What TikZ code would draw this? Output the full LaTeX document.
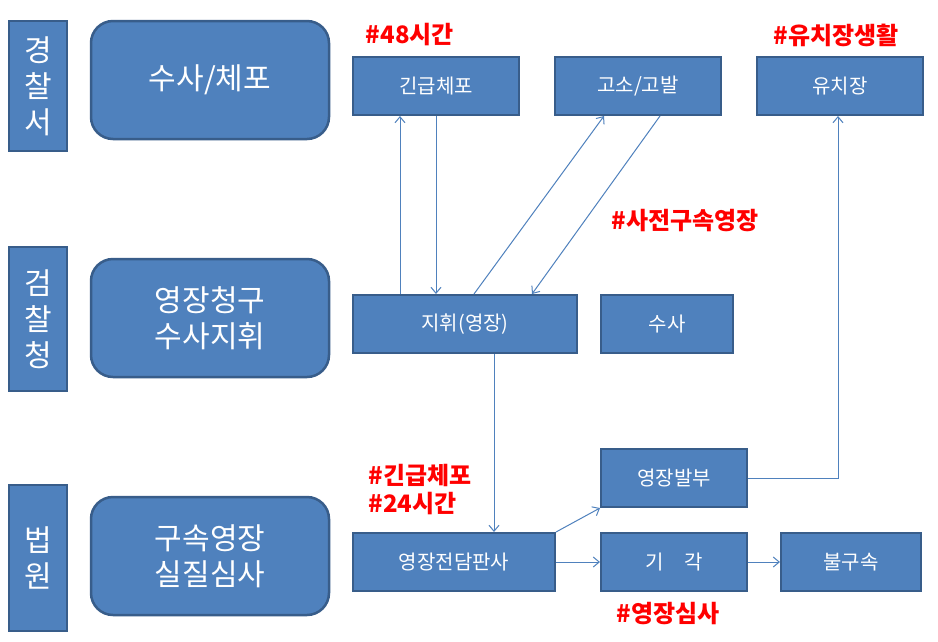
\documentclass[tikz,border=0pt]{standalone}
\usepackage{fontspec}
\setmainfont{Noto Sans CJK KR}
\usetikzlibrary{arrows.meta}
\definecolor{boxfill}{HTML}{4F81BD}
\definecolor{boxline}{HTML}{385D8A}
\tikzset{
  orgbox/.style={fill=boxfill, draw=boxline, line width=2.5pt, text=white, align=center,
    font=\fontsize{30}{36}\selectfont, minimum width=58pt, inner sep=0pt},
  rolebox/.style={fill=boxfill, draw=boxline, line width=2.5pt, rounded corners=22pt, text=white,
    align=center, font=\fontsize{30}{36}\selectfont, minimum width=238pt, minimum height=118pt},
  stepbox/.style={fill=boxfill, draw=boxline, line width=2pt, text=white,
    font=\fontsize{20}{24}\selectfont, minimum height=58pt, inner sep=0pt},
  note/.style={text=red, font=\bfseries\fontsize{24}{28}\selectfont},
  link/.style={draw=boxfill, line width=1pt, -{Straight Barb[length=6pt,width=10pt]}}
}
\begin{document}
\begin{tikzpicture}[x=1pt,y=-1pt]
    \useasboundingbox[fill=white] (0,0) rectangle (938,641);

    % organisations
    \node[orgbox, minimum height=130pt] (police) at (38,86) {경\\찰\\서};
    \node[orgbox, minimum height=144pt] (prosec) at (38,319) {검\\찰\\청};
    \node[orgbox, minimum height=146pt] (court) at (38,558) {법\\원};

    \node[rolebox] (arrest) at (210,80) {수사/체포};
    \node[rolebox] (warrant) at (210,318) {영장청구\\수사지휘};
    \node[rolebox] (review) at (210,556) {구속영장\\실질심사};

    % steps
    \node[stepbox, minimum width=166pt] (urgent) at (436,86) {긴급체포};
    \node[stepbox, minimum width=166pt] (charge) at (638,86) {고소/고발};
    \node[stepbox, minimum width=166pt] (jail) at (840,86) {유치장};
    \node[stepbox, minimum width=224pt] (direct) at (465,324) {지휘(영장)};
    \node[stepbox, minimum width=132pt] (invest) at (667,324) {수사};
    \node[stepbox, minimum width=146pt] (issue) at (674,478) {영장발부};
    \node[stepbox, minimum width=202pt] (judge) at (454,562) {영장전담판사};
    \node[stepbox, minimum width=146pt] (reject) at (674,562) {기\quad 각};
    \node[stepbox, minimum width=140pt] (free) at (851,562) {불구속};

    % notes
    \node[note] (n48) at (410,35) {\#48시간};
    \node[note] (njail) at (836,35) {\#유치장생활};
    \node[note] (npre) at (685,221) {\#사전구속영장};
    \node[note, align=left] (n24) at (420,490) {\#긴급체포\\\#24시간};
    \node[note] (nrev) at (668,614) {\#영장심사};

    % connectors
    \draw[link] (direct.north -| 400,0) -- (urgent.south -| 400,0);
    \draw[link] (urgent.south -| 436,0) -- (direct.north -| 436,0);
    \draw[link] (direct.north -| 474,0) -- (charge.south -| 604,0);
    \draw[link] (charge.south -| 660,0) -- (direct.north -| 532,0);
    \draw[link] (direct.south -| 494,0) -- (judge.north -| 494,0);
    \draw[link] (judge.north east) -- (issue.south west);
    \draw[link] (judge) -- (reject);
    \draw[link] (reject) -- (free);
    \draw[link] (issue.east) -| (jail.south -| 838,0);
\end{tikzpicture}
\end{document}
